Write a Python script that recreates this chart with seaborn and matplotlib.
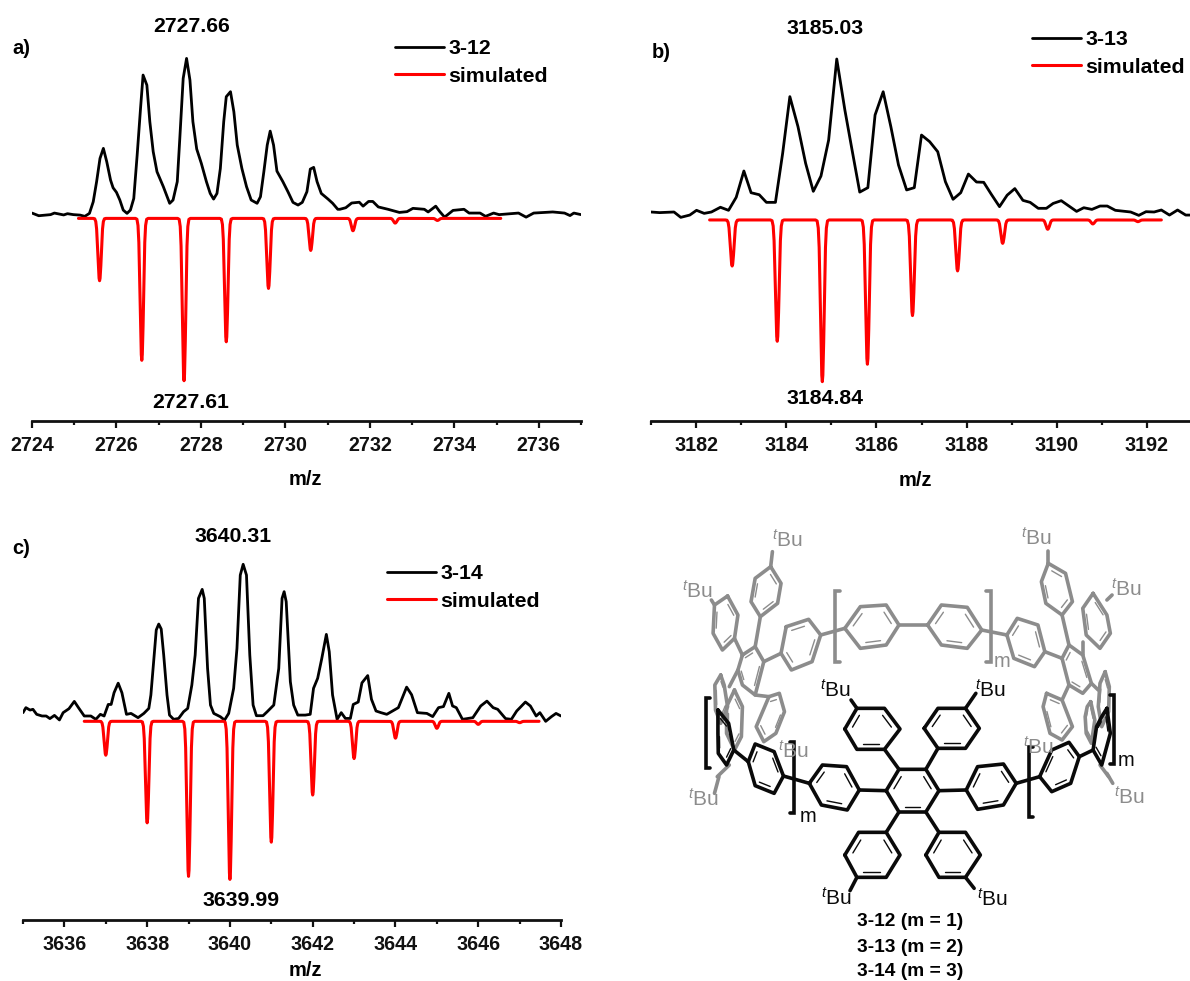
import numpy as np
import pandas as pd
import seaborn as sns
import matplotlib
matplotlib.use("Agg")
import matplotlib.pyplot as plt
from matplotlib.ticker import MultipleLocator

# ---------- data ----------
a_mz = [2724.00,2724.16,2724.44,2724.53,2724.75,2724.84,2724.98,
        2725.14,2725.25,2725.36,2725.45,2725.53,2725.61,2725.69,2725.77,2725.86,2725.92,2726.00,2726.08,2726.16,2726.25,2726.33,2726.41,2726.49,2726.57,2726.63,2726.72,2726.79,2726.87,2726.96,2727.11,2727.26,2727.34,2727.44,2727.50,2727.58,2727.66,2727.74,2727.81,2727.90,2728.01,2728.13,2728.22,2728.30,2728.38,2728.46,2728.54,2728.60,2728.70,2728.78,2728.86,2728.97,2729.08,2729.19,2729.33,2729.41,2729.49,2729.57,2729.64,2729.72,2729.80,2729.94,2730.06,2730.18,2730.30,2730.40,2730.51,2730.59,2730.67,2730.75,2730.85,2731.01,2731.12,2731.24,
        2731.29,2731.43,2731.57,2731.75,2731.84,2731.97,2732.07,2732.20,2732.43,2732.70,2732.88,2733.02,2733.29,2733.38,2733.56,2733.65,2733.77,2733.97,2734.23,2734.35,2734.61,2734.74,2734.93,2735.06,2735.52,2735.70,2735.88,2736.33,2736.61,2736.74,2736.83,2737.00]
a_int = [0.6,-1.1,-0.4,0.6,-0.6,0.2,-0.4,
         -0.7,-1.5,0.4,7.8,20.6,35.4,41.8,33.3,21.6,16.7,13.8,8.9,2.5,0.4,2.5,9.9,37.5,67.3,88.5,82.1,58.8,39.7,26.9,17.4,6.8,8.9,20.6,48.2,86.4,99.1,85.3,58.8,41.4,32.2,20.6,13.1,9.5,13.1,29.0,58.8,74.7,77.9,65.1,43.9,29.0,17.4,8.9,6.8,11,26.9,43.9,52.8,43.9,27.3,20.6,14.2,7.4,5.7,7.4,14.2,28.6,29.7,20.6,13.1,9.5,6.8,3,
         3,4,7,7.5,5,8,8,4.5,3,1,1.5,3.6,3,1.3,5,1.7,-2,2.3,3,0.6,0.6,-1.5,0.6,-0.4,0.6,-2,0.6,1.3,0.6,-1,0.6,-0.4]
a_sim_mz = [2725.6,2726.6,2727.6,2728.6,2729.6,2730.6,2731.6,2732.6,2733.6]
a_sim_depth = [39.7,90.4,103.4,78.6,44.6,20.4,7.9,3.0,1.3]
a_sim_base = -2.8
a_sim_range = (2725.1,2735.1)

b_mz = [3181.00,3181.19,3181.51,3181.66,3181.86,3182.01,3182.18,3182.34,3182.54,3182.72,3182.89,3183.06,3183.22,3183.40,3183.56,3183.76,3183.92,3184.08,3184.26,3184.43,3184.60,3184.77,3184.94,3185.12,3185.30,3185.46,3185.63,3185.81,3185.97,3186.15,3186.32,3186.49,3186.67,3186.84,3187.00,3187.18,3187.36,3187.53,3187.70,3187.87,3188.04,3188.22,3188.38,3188.55,3188.73,3188.90,3189.07,3189.25,3189.41,3189.59,3189.77,3189.92,3190.10,3190.27,3190.44,3190.60,3190.78,3190.96,3191.12,3191.30,3191.64,3191.82,3191.98,3192.16,3192.32,3192.50,3192.68,3192.86,3193.00]
b_int = [0,-0.4,0,-3.5,-2,1.1,-0.9,0,3.1,1.1,9.6,26.8,12.6,11.3,6.3,6.3,38.3,75.4,55.8,31.8,13.5,23.5,47,100,66.7,40.5,13,15.9,63.4,78.6,55.8,30.7,14.4,15.9,50.3,46,39.4,19.8,8.3,12.6,24.8,19.6,19.4,11.5,3.5,11,15.3,7.6,6.3,2.4,2.4,5.6,7.4,3.9,0.4,2.8,1.7,3.9,3.9,1.1,0,-2.2,0.2,0,1.3,-2,1.3,-2,-2]
b_sim_mz = [3182.8,3183.8,3184.8,3185.8,3186.8,3187.8,3188.8,3189.8,3190.8,3191.8]
b_sim_depth = [30.1,79.3,105.7,94.3,62.5,33.3,15.3,6.1,2.6,1.1]
b_sim_base = -5.2
b_sim_range = (3182.30,3192.32)

c_mz = [3635.00,3635.07,3635.17,3635.24,3635.33,3635.46,3635.56,3635.65,3635.76,3635.88,3635.97,3636.11,3636.24,3636.34,3636.48,3636.64,3636.76,3636.87,3636.96,3637.06,3637.13,3637.20,3637.30,3637.39,3637.50,3637.61,3637.78,
        3637.92,3638.04,3638.09,3638.17,3638.22,3638.28,3638.34,3638.40,3638.48,3638.54,3638.64,3638.76,3638.88,3638.98,3639.08,3639.16,3639.24,3639.33,3639.38,3639.46,3639.53,3639.61,3639.77,3639.87,3639.97,3640.09,3640.17,3640.25,3640.32,3640.40,3640.48,3640.56,3640.64,3640.80,3640.90,3641.06,3641.18,3641.26,3641.31,3641.36,3641.46,3641.54,3641.64,3641.82,3641.94,3642.02,3642.12,3642.22,3642.33,3642.40,3642.48,3642.59,3642.69,3642.79,3642.91,
        3642.98,3643.10,3643.19,3643.33,3643.42,3643.53,3643.65,3643.79,3644.07,3644.27,3644.39,3644.53,3644.76,3644.90,3645.04,3645.16,3645.29,3645.38,3645.47,3645.62,3645.87,3646.06,3646.21,3646.36,3646.47,3646.66,3646.80,3646.93,3647.14,3647.26,3647.40,3647.49,3647.63,3647.77,3647.88,3648.00]
c_int = [2.2,5.5,3.9,4.4,1.1,0,0,-1.7,0.4,-2.6,2.2,4.8,9.6,5.5,0,0,-2.2,1.1,0,7.6,7.6,15.3,21.6,15.3,1.1,1.7,-1.1,
         1.7,5.0,13.8,40.1,56.6,60.5,57.2,40.1,13.8,0.6,-2.2,-1.6,2.8,5.0,20.4,40.1,77.4,83.3,77.4,31.3,7.2,1.7,-0.5,-2.7,1.7,18.2,44.5,92.7,99.8,92.7,40.1,7.2,0.2,0.2,2.8,7.2,31.3,77.4,81.8,75.2,22.6,7.2,0.6,0.6,1.1,18.2,24.8,37.9,53.7,42.3,13.8,-2.2,2.2,-1.6,-1.6,
         7.6,9.2,21.8,26.6,11,3.3,2.2,1.1,5.5,19,14,2.2,1.7,-0.4,5.5,6.2,14.9,6.6,5.5,-2.2,-1.1,6.6,9.8,5.5,4.4,-1.7,-2.2,3.3,9.2,6.6,0,2.2,-3.5,-0.4,1.7,0]
c_sim_mz = [3637,3638,3639,3640,3641,3642,3643,3644,3645,3646,3647]
c_sim_depth = [22.3,66.8,102,104,79.5,48.5,24.5,11.1,4.6,2.0,0.9]
c_sim_base = -3.5
c_sim_range = (3636.48,3647.47)

# shape of one simulated line, read from the tallest peaks
line_offset = [-0.15,-0.115,-0.09,-0.07,-0.05,-0.03,-0.012,0.0,0.012,0.03,0.05,0.07,0.09,0.115,0.15]
line_frac   = [0,0.006,0.05,0.17,0.45,0.76,0.96,1,0.96,0.76,0.45,0.17,0.05,0.006,0]

# ---------- page set-up ----------
sns.set_theme(style="white")
plt.rcParams['font.family'] = ['Liberation Sans', 'DejaVu Sans']
plt.rcParams['mathtext.fontset'] = 'custom'
plt.rcParams['mathtext.it'] = 'Liberation Sans:italic'
plt.rcParams['mathtext.rm'] = 'Liberation Sans'
W, H = 1190, 981
fig = plt.figure(figsize=(W/100, H/100), dpi=100, facecolor='white')

def ftext(px, py, s, **kw):
    kw.setdefault('ha', 'center'); kw.setdefault('va', 'center')
    kw.setdefault('fontweight', 'bold'); kw.setdefault('color', '#000000')
    return fig.text(px/W, 1-py/H, s, **kw)

def sim_trace(mz, depth, base, rng):
    xs, ys = [rng[0]], [base]
    for m, d in zip(mz, depth):
        for o, f in zip(line_offset, line_frac):
            xs.append(m+o); ys.append(base-d*f)
    xs.append(rng[1]); ys.append(base)
    return xs, ys

def panel(rect, xr, zero, scale, mz, inten, smz, sdep, sbase, srng, name, leg):
    left, right, top, axis_y = rect
    ax = fig.add_axes([left/W, 1-axis_y/H, (right-left)/W, (axis_y-top)/H])
    ax.patch.set_alpha(0)
    exp = pd.DataFrame({'mz': mz, 'intensity': inten})
    xs, ys = sim_trace(smz, sdep, sbase, srng)
    sim = pd.DataFrame({'mz': xs, 'intensity': ys})
    sns.lineplot(data=exp, x='mz', y='intensity', ax=ax, color='black', lw=2.0, label=name,
                 estimator=None, sort=False, solid_joinstyle='round')
    sns.lineplot(data=sim, x='mz', y='intensity', ax=ax, color='#ff0000', lw=2.2, label='simulated',
                 estimator=None, sort=False, solid_joinstyle='round')
    ax.set_xlim(*xr)
    ax.set_ylim((zero-axis_y)/scale, (zero-top)/scale)
    ax.set_xlabel(''); ax.set_ylabel(''); ax.set_yticks([])
    for s in ('top', 'left', 'right'):
        ax.spines[s].set_visible(False)
    ax.spines['bottom'].set_linewidth(2.0); ax.spines['bottom'].set_color('#111111')
    ax.xaxis.set_major_locator(MultipleLocator(2))
    ax.xaxis.set_minor_locator(MultipleLocator(1))
    ax.tick_params(axis='x', which='major', length=5, width=1.6, bottom=True, pad=6, color='#111111')
    ax.tick_params(axis='x', which='minor', length=2.6, width=1.6, bottom=True, color='#111111')
    ax.xaxis.set_major_formatter(lambda v, p: f'{int(round(v))}')
    for t in ax.get_xticklabels():
        t.set_fontsize(14.2); t.set_fontweight('bold'); t.set_color('#111111')
    lx, ly = leg
    l = ax.legend(loc='upper left', bbox_to_anchor=(lx/W, 1-ly/H), bbox_transform=fig.transFigure,
                  frameon=False, borderpad=0, borderaxespad=0, handlelength=2.3, handletextpad=0.22,
                  labelspacing=0.41, prop={'size': 15.3, 'weight': 'bold', 'family': 'Liberation Sans'})
    for t in l.get_texts():
        t.set_color('#000000')
    return ax

panel((32, 581, 10, 421), (2724, 2737), 214, 1.57, a_mz, a_int, a_sim_mz, a_sim_depth, a_sim_base, a_sim_range, '3-12', (395, 39))
panel((651, 1192, 10, 421), (3181, 3193), 212, 1.53, b_mz, b_int, b_sim_mz, b_sim_depth, b_sim_base, b_sim_range, '3-13', (1032, 30))
panel((23, 561, 530, 919.5), (3635, 3648), 716, 1.52, c_mz, c_int, c_sim_mz, c_sim_depth, c_sim_base, c_sim_range, '3-14', (387, 564))

for px, py, s, fs in [(192, 27, '2727.66', 15.3), (191, 403, '2727.61', 15.3), (21, 49, 'a)', 14.5), (305, 479, 'm/z', 14.5),
                      (825, 28, '3185.03', 15.3), (825, 398, '3184.84', 15.3), (661, 52, 'b)', 14.5), (915, 481, 'm/z', 14.5),
                      (233, 536, '3640.31', 15.3), (241, 901, '3639.99', 15.3), (21, 548, 'c)', 14.5), (305, 970, 'm/z', 14.5)]:
    ftext(px, py, s, fontsize=fs)

# ---------- chemical structure ----------
sx = fig.add_axes([0, 0, 1, 1]); sx.set_xlim(0, W); sx.set_ylim(H, 0); sx.axis('off'); sx.patch.set_alpha(0)
def P(x, y):
    return 650 + x/2.9, 520 + y/3.0
GRAY = '#8c8c8c'; BLK = '#0a0a0a'
BOND = 2.6

def ring(v, color, start=0):
    pts = [P(*p) for p in v]
    cx, cy = np.mean(pts, axis=0)
    xs, ys = zip(*(pts+[pts[0]]))
    sx.plot(xs, ys, color=color, lw=BOND, solid_joinstyle='round', solid_capstyle='round')
    for i in range(start, 6, 2):
        a, b = np.array(pts[i]), np.array(pts[(i+1) % 6])
        c = np.array([cx, cy])
        a2 = a+(c-a)*0.25; b2 = b+(c-b)*0.25
        a3 = a2+(b2-a2)*0.12; b3 = b2-(b2-a2)*0.12
        sx.plot([a3[0], b3[0]], [a3[1], b3[1]], color=color, lw=1.0)

def polyline(pts, color, lw=BOND):
    q = [P(*p) for p in pts]
    xs, ys = zip(*q)
    sx.plot(xs, ys, color=color, lw=lw, solid_capstyle='round', solid_joinstyle='miter')

gray_rings = [
    [(565,325),(610,260),(685,255),(722,315),(685,375),(610,385)],
    [(805,315),(845,255),(920,262),(962,330),(920,385),(845,375)],
    [(395,320),(460,298),(495,345),(470,425),(410,450),(380,400)],
    [(1035,345),(1065,295),(1125,315),(1145,395),(1115,440),(1055,415)],
    [(268,405),(305,380),(330,425),(305,525),(268,495),(255,450)],
    [(1195,415),(1215,375),(1255,405),(1280,490),(1255,520),(1215,495)],
    [(350,140),(380,190),(370,250),(320,290),(293,245),(305,175)],
    [(225,228),(255,285),(245,355),(210,390),(183,340),(187,255)],
    [(1155,130),(1205,160),(1225,245),(1195,285),(1148,250),(1135,185)],
    [(1285,220),(1325,285),(1335,340),(1305,385),(1265,345),(1255,265)],
    [(345,530),(375,520),(390,575),(365,640),(330,665),(308,620)],
    [(1150,520),(1195,540),(1225,620),(1195,660),(1160,640),(1140,560)],
    [(205,465),(215,495),(225,560),(205,610),(190,570),(188,495)],
    [(245,510),(268,560),(265,650),(245,690),(222,640),(222,560)],
    [(1320,455),(1332,500),(1330,575),(1310,620),(1300,560),(1305,490)],
    [(1278,545),(1290,600),(1280,670),(1265,640),(1262,590),(1268,560)],
]
gray_bonds = [
    [(565,325),(495,345)], [(722,315),(805,315)], [(962,330),(1035,345)],
    [(380,400),(330,425)], [(1145,395),(1195,415)], [(320,290),(305,380)],
    [(1195,285),(1215,375)], [(245,355),(268,405)], [(1255,365),(1255,405)],
    [(305,525),(345,530)], [(1215,495),(1195,540)], [(350,140),(355,95)],
    [(187,255),(178,240)], [(1155,130),(1155,92)], [(1325,240),(1340,225)],
    [(255,450),(230,500)], [(1280,490),(1300,510)], [(200,770),(187,820)], [(1325,760),(1342,790)],
    [(195,770),(230,735)], [(1305,735),(1330,770)],
]
black_rings = [
    [(685,812),(722,748),(800,748),(838,812),(800,876),(722,876)],
    [(565,627),(600,565),(680,565),(725,627),(680,688),(600,688)],
    [(795,625),(835,565),(915,565),(955,625),(915,685),(835,685)],
    [(565,1005),(605,937),(685,937),(725,1005),(685,1072),(600,1072)],
    [(800,1005),(838,937),(915,937),(958,1005),(915,1072),(838,1072)],
    [(462,790),(500,735),(570,740),(607,810),(572,870),(497,855)],
    [(917,810),(950,740),(1025,732),(1062,790),(1025,855),(950,868)],
    [(285,725),(305,672),(360,695),(387,768),(360,820),(305,797)],
    [(1130,770),(1165,690),(1215,667),(1245,710),(1220,790),(1165,815)],
    [(197,570),(228,610),(243,690),(222,735),(198,700),(197,640)],
    [(1325,565),(1335,640),(1310,735),(1285,690),(1295,620),(1310,590)],
]
black_bonds = [
    [(722,748),(680,688)], [(800,748),(835,685)], [(685,812),(607,810)], [(838,812),(917,810)],
    [(722,876),(685,937)], [(800,876),(838,937)], [(462,790),(387,768)], [(1062,790),(1130,770)],
    [(285,725),(243,690)], [(1245,710),(1285,690)], [(600,565),(583,540)], [(915,565),(945,520)],
    [(600,1072),(580,1112)], [(915,1072),(940,1105)],
]
for r in gray_rings:
    ring(r, GRAY)
for b in gray_bonds:
    polyline(b, GRAY)
polyline([(550,213),(537,213),(537,425),(550,425)], GRAY)
polyline([(975,213),(988,213),(988,425),(975,425)], GRAY)
for r in black_rings:
    ring(r, BLK)
for b in black_bonds:
    polyline(b, BLK)
polyline([(175,535),(163,535),(163,745),(175,745)], BLK)
polyline([(405,665),(417,665),(417,880),(405,880)], BLK)
polyline([(1110,680),(1100,680),(1100,892),(1110,892)], BLK)
polyline([(1335,525),(1347,525),(1347,733),(1335,733)], BLK)

TBU = r'$^{\mathit{t}}$Bu'
for (x, y) in [(398,60),(1122,55),(137,212),(1382,207),(155,838),(1390,830),(415,692),(1128,682)]:
    px, py = P(x, y)
    ftext(px, py, TBU, fontsize=15, fontweight='normal', color=GRAY)
for (x, y) in [(538,510),(988,510),(540,1135),(993,1138)]:
    px, py = P(x, y)
    ftext(px, py, TBU, fontsize=15, fontweight='normal', color=BLK)
for (x, y, c) in [(458,890,BLK),(1382,720,BLK),(1020,425,GRAY)]:
    px, py = P(x, y)
    ftext(px, py, 'm', fontsize=14.5, fontweight='normal', color=c)

for py, s in [(922, '3-12 (m = 1)'), (947, '3-13 (m = 2)'), (971, '3-14 (m = 3)')]:
    ftext(910, py, s, fontsize=13.8)

fig.savefig('out.png', dpi=100)
